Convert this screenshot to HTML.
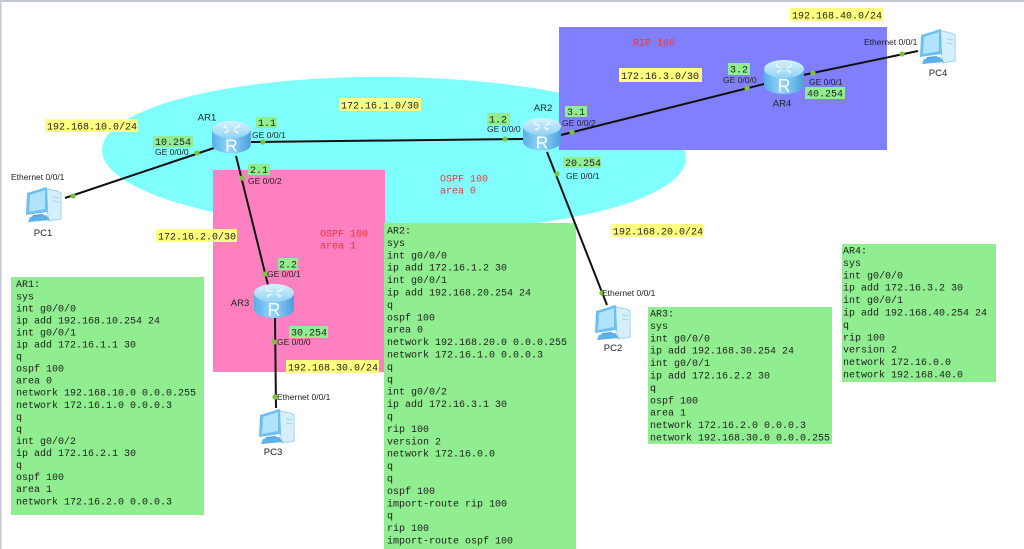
<!DOCTYPE html>
<html>
<head>
<meta charset="utf-8">
<style>
  html,body{margin:0;padding:0;background:#fff;}
  body{width:1024px;height:549px;overflow:hidden;position:relative;}
  svg{position:absolute;left:0;top:0;}
  .mono{font-family:"Liberation Mono",monospace;font-size:10px;fill:#1e1e1e;}
  .lbl{font-family:"Liberation Mono",monospace;font-size:10px;fill:#222;}
  .if{font-family:"Liberation Sans",sans-serif;font-size:8.5px;fill:#222;}
  .nm{font-family:"Liberation Sans",sans-serif;font-size:9.5px;fill:#222;}
  .red{font-family:"Liberation Mono",monospace;font-size:10px;fill:#f03434;}
</style>
</head>
<body>
<svg width="1024" height="549" viewBox="0 0 1024 549" xmlns="http://www.w3.org/2000/svg">
  <defs>
    <linearGradient id="rb" x1="0" y1="0" x2="1" y2="0">
      <stop offset="0" stop-color="#5aaee6"/>
      <stop offset="0.45" stop-color="#92d6fa"/>
      <stop offset="1" stop-color="#4c9fdc"/>
    </linearGradient>
    <linearGradient id="rt" x1="0" y1="0" x2="0" y2="1">
      <stop offset="0" stop-color="#d6f2ff"/>
      <stop offset="1" stop-color="#92d2f6"/>
    </linearGradient>
    <g id="router">
      <path d="M0,9 V25 A20,9 0 0 0 40,25 V9 Z" fill="url(#rb)"/>
      <ellipse cx="20" cy="9" rx="20" ry="9" fill="url(#rt)"/>
      <g stroke="#ffffff" stroke-width="1.2" fill="none" opacity="0.9">
        <path d="M12,6 L17,8 M12,6 L13,4"/>
        <path d="M28,6 L23,8 M28,6 L27,4"/>
        <path d="M13,12 L18,10 M13,12 L15,13"/>
        <path d="M27,12 L22,10 M27,12 L25,13"/>
      </g>
      <text x="20" y="32" text-anchor="middle" font-family="Liberation Sans, sans-serif" font-size="18" fill="#ffffff">R</text>
    </g>
    <g id="pc">
      <path d="M20,3 L34,6 L38,8 L38,34 L26,36 Z" fill="#d6effc" stroke="#9fd2f2" stroke-width="1"/>
      <path d="M30,12 L36,13 M30,16 L36,17" stroke="#9fd2f2" stroke-width="1"/>
      <path d="M4,8 L24,2 L25,27 L3,30 Z" fill="#6dbff2"/>
      <path d="M7,10 L22,5 L22,24 L6,27 Z" fill="#b2e3fc"/>
      <path d="M10,30 L20,29 L21,31 L9,32 Z" fill="#4ea6e4"/>
      <path d="M7,32 L23,30 L27,35 L5,37 Z" fill="#5db1ea"/>
    </g>
  </defs>

  <!-- frame -->
  <rect x="0" y="0" width="1024" height="2" fill="#c3c9d4"/>
  <rect x="0" y="0" width="1.5" height="549" fill="#c3c9d4"/>

  <!-- areas -->
  <ellipse cx="394" cy="154" rx="292" ry="77" fill="#80ffff" transform="rotate(0.8 394 154)"/>
  <rect x="213" y="170" width="172" height="202" fill="#ff80c0"/>
  <rect x="559" y="27" width="328" height="123" fill="#8080ff"/>

  <!-- area labels -->
  <text class="red" x="440" y="181.5">OSPF 100</text>
  <text class="red" x="440" y="193.5">area 0</text>
  <text class="red" x="320" y="236.5">OSPF 100</text>
  <text class="red" x="320" y="248.5">area 1</text>
  <text class="red" x="633" y="45.5">RIP 100</text>

  <!-- config boxes -->
  <rect x="11" y="277" width="193" height="238" fill="#90ee90"/>
  <rect x="384" y="223" width="192" height="330" fill="#90ee90"/>
  <rect x="648" y="307" width="184" height="137" fill="#90ee90"/>
  <rect x="842" y="244" width="154" height="138" fill="#90ee90"/>

  <text class="mono" x="16" y="287.2" xml:space="preserve"><tspan x="16">AR1:</tspan><tspan x="16" dy="12.06">sys</tspan><tspan x="16" dy="12.06">int g0/0/0</tspan><tspan x="16" dy="12.06">ip add 192.168.10.254 24</tspan><tspan x="16" dy="12.06">int g0/0/1</tspan><tspan x="16" dy="12.06">ip add 172.16.1.1 30</tspan><tspan x="16" dy="12.06">q</tspan><tspan x="16" dy="12.06">ospf 100</tspan><tspan x="16" dy="12.06">area 0</tspan><tspan x="16" dy="12.06">network 192.168.10.0 0.0.0.255</tspan><tspan x="16" dy="12.06">network 172.16.1.0 0.0.0.3</tspan><tspan x="16" dy="12.06">q</tspan><tspan x="16" dy="12.06">q</tspan><tspan x="16" dy="12.06">int g0/0/2</tspan><tspan x="16" dy="12.06">ip add 172.16.2.1 30</tspan><tspan x="16" dy="12.06">q</tspan><tspan x="16" dy="12.06">ospf 100</tspan><tspan x="16" dy="12.06">area 1</tspan><tspan x="16" dy="12.06">network 172.16.2.0 0.0.0.3</tspan></text>

  <text class="mono" x="387" y="233.5" xml:space="preserve"><tspan x="387">AR2:</tspan><tspan x="387" dy="12.4">sys</tspan><tspan x="387" dy="12.4">int g0/0/0</tspan><tspan x="387" dy="12.4">ip add 172.16.1.2 30</tspan><tspan x="387" dy="12.4">int g0/0/1</tspan><tspan x="387" dy="12.4">ip add 192.168.20.254 24</tspan><tspan x="387" dy="12.4">q</tspan><tspan x="387" dy="12.4">ospf 100</tspan><tspan x="387" dy="12.4">area 0</tspan><tspan x="387" dy="12.4">network 192.168.20.0 0.0.0.255</tspan><tspan x="387" dy="12.4">network 172.16.1.0 0.0.0.3</tspan><tspan x="387" dy="12.4">q</tspan><tspan x="387" dy="12.4">q</tspan><tspan x="387" dy="12.4">int g0/0/2</tspan><tspan x="387" dy="12.4">ip add 172.16.3.1 30</tspan><tspan x="387" dy="12.4">q</tspan><tspan x="387" dy="12.4">rip 100</tspan><tspan x="387" dy="12.4">version 2</tspan><tspan x="387" dy="12.4">network 172.16.0.0</tspan><tspan x="387" dy="12.4">q</tspan><tspan x="387" dy="12.4">q</tspan><tspan x="387" dy="12.4">ospf 100</tspan><tspan x="387" dy="12.4">import-route rip 100</tspan><tspan x="387" dy="12.4">q</tspan><tspan x="387" dy="12.4">rip 100</tspan><tspan x="387" dy="12.4">import-route ospf 100</tspan></text>

  <text class="mono" x="650" y="316.5" xml:space="preserve"><tspan x="650">AR3:</tspan><tspan x="650" dy="12.4">sys</tspan><tspan x="650" dy="12.4">int g0/0/0</tspan><tspan x="650" dy="12.4">ip add 192.168.30.254 24</tspan><tspan x="650" dy="12.4">int g0/0/1</tspan><tspan x="650" dy="12.4">ip add 172.16.2.2 30</tspan><tspan x="650" dy="12.4">q</tspan><tspan x="650" dy="12.4">ospf 100</tspan><tspan x="650" dy="12.4">area 1</tspan><tspan x="650" dy="12.4">network 172.16.2.0 0.0.0.3</tspan><tspan x="650" dy="12.4">network 192.168.30.0 0.0.0.255</tspan></text>

  <text class="mono" x="843" y="253.5" xml:space="preserve"><tspan x="843">AR4:</tspan><tspan x="843" dy="12.4">sys</tspan><tspan x="843" dy="12.4">int g0/0/0</tspan><tspan x="843" dy="12.4">ip add 172.16.3.2 30</tspan><tspan x="843" dy="12.4">int g0/0/1</tspan><tspan x="843" dy="12.4">ip add 192.168.40.254 24</tspan><tspan x="843" dy="12.4">q</tspan><tspan x="843" dy="12.4">rip 100</tspan><tspan x="843" dy="12.4">version 2</tspan><tspan x="843" dy="12.4">network 172.16.0.0</tspan><tspan x="843" dy="12.4">network 192.168.40.0</tspan></text>

  <!-- links -->
  <g stroke="#111" stroke-width="2" fill="none">
    <line x1="214" y1="148" x2="65" y2="198"/>
    <line x1="251" y1="142" x2="524" y2="139"/>
    <line x1="236" y1="156" x2="268" y2="285"/>
    <line x1="275" y1="318" x2="276" y2="408"/>
    <line x1="561" y1="135" x2="764" y2="84"/>
    <line x1="803" y1="75" x2="918" y2="51"/>
    <line x1="547" y1="152" x2="607" y2="305"/>
  </g>
  <g fill="#7cc43c">
    <circle cx="197" cy="153" r="2.6"/>
    <circle cx="73" cy="196" r="2.6"/>
    <circle cx="263" cy="142" r="2.6"/>
    <circle cx="505" cy="139" r="2.6"/>
    <circle cx="242" cy="178" r="2.6"/>
    <circle cx="265" cy="274" r="2.6"/>
    <circle cx="274" cy="342" r="2.6"/>
    <circle cx="275" cy="397" r="2.6"/>
    <circle cx="572" cy="132" r="2.6"/>
    <circle cx="747" cy="88" r="2.6"/>
    <circle cx="813" cy="73" r="2.6"/>
    <circle cx="902" cy="54" r="2.6"/>
    <circle cx="557" cy="174" r="2.6"/>
    <circle cx="602" cy="293" r="2.6"/>
  </g>

  <!-- devices -->
  <use href="#router" transform="translate(212,121) scale(0.97,0.95)"/>
  <use href="#router" transform="translate(523,118) scale(0.95,0.95)"/>
  <use href="#router" transform="translate(254,284)"/>
  <use href="#router" transform="translate(764,60)"/>
  <use href="#pc" transform="translate(23,185)"/>
  <use href="#pc" transform="translate(917,27)"/>
  <use href="#pc" transform="translate(592,303)"/>
  <use href="#pc" transform="translate(256,407)"/>

  <!-- yellow network labels -->
  <g fill="#ffff80">
    <rect x="45" y="119" width="93" height="13"/>
    <rect x="339" y="98" width="82" height="13"/>
    <rect x="156" y="229" width="81" height="13"/>
    <rect x="611" y="224" width="92" height="13"/>
    <rect x="790" y="8" width="93" height="13"/>
    <rect x="619" y="68" width="83" height="14"/>
    <rect x="286" y="360" width="93" height="13"/>
  </g>
  <text class="lbl" x="47" y="129.5">192.168.10.0/24</text>
  <text class="lbl" x="341" y="108.5">172.16.1.0/30</text>
  <text class="lbl" x="158" y="239.5">172.16.2.0/30</text>
  <text class="lbl" x="613" y="234.5">192.168.20.0/24</text>
  <text class="lbl" x="792" y="18.5">192.168.40.0/24</text>
  <text class="lbl" x="621" y="79">172.16.3.0/30</text>
  <text class="lbl" x="288" y="370.5">192.168.30.0/24</text>

  <!-- green ip labels -->
  <g fill="#90ee90">
    <rect x="256" y="117" width="21" height="11"/>
    <rect x="153" y="136" width="40" height="11"/>
    <rect x="248" y="164" width="22" height="11"/>
    <rect x="487" y="113" width="23" height="12"/>
    <rect x="565" y="106" width="22" height="11"/>
    <rect x="563" y="157" width="38" height="11"/>
    <rect x="728" y="63" width="22" height="12"/>
    <rect x="805" y="87" width="40" height="12"/>
    <rect x="278" y="258" width="20" height="12"/>
    <rect x="289" y="326" width="39" height="12"/>
  </g>
  <text class="lbl" x="258" y="126">1.1</text>
  <text class="lbl" x="155" y="145">10.254</text>
  <text class="lbl" x="250" y="173">2.1</text>
  <text class="lbl" x="489" y="122.5">1.2</text>
  <text class="lbl" x="567" y="115">3.1</text>
  <text class="lbl" x="565" y="166">20.254</text>
  <text class="lbl" x="730" y="72.5">3.2</text>
  <text class="lbl" x="807" y="96.5">40.254</text>
  <text class="lbl" x="279" y="267.5">2.2</text>
  <text class="lbl" x="291" y="335.5">30.254</text>

  <!-- interface labels -->
  <text class="if" x="252" y="138">GE 0/0/1</text>
  <text class="if" x="155" y="155">GE 0/0/0</text>
  <text class="if" x="248" y="184">GE 0/0/2</text>
  <text class="if" x="11" y="180">Ethernet 0/0/1</text>
  <text class="if" x="487" y="132">GE 0/0/0</text>
  <text class="if" x="562" y="126">GE 0/0/2</text>
  <text class="if" x="566" y="179">GE 0/0/1</text>
  <text class="if" x="723" y="83">GE 0/0/0</text>
  <text class="if" x="809" y="85">GE 0/0/1</text>
  <text class="if" x="864" y="45">Ethernet 0/0/1</text>
  <text class="if" x="267" y="277">GE 0/0/1</text>
  <text class="if" x="277" y="345">GE 0/0/0</text>
  <text class="if" x="277" y="400">Ethernet 0/0/1</text>
  <text class="if" x="602" y="296">Ethernet 0/0/1</text>

  <!-- device names -->
  <text class="nm" x="207" y="120.5" text-anchor="middle">AR1</text>
  <text class="nm" x="543" y="111" text-anchor="middle">AR2</text>
  <text class="nm" x="240" y="306" text-anchor="middle">AR3</text>
  <text class="nm" x="782" y="106.5" text-anchor="middle">AR4</text>
  <text class="nm" x="43" y="236" text-anchor="middle">PC1</text>
  <text class="nm" x="613" y="351" text-anchor="middle">PC2</text>
  <text class="nm" x="273" y="455" text-anchor="middle">PC3</text>
  <text class="nm" x="938" y="76" text-anchor="middle">PC4</text>
</svg>
</body>
</html>
